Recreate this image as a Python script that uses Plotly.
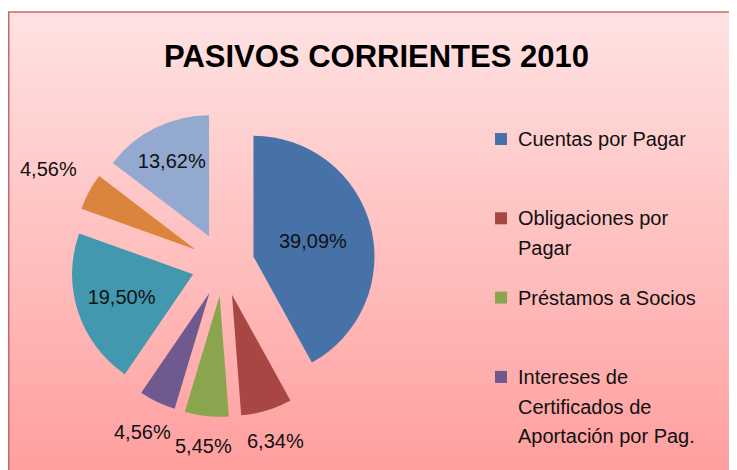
import math
import plotly.graph_objects as go

# ---- data ----
categories = [
    "Cuentas por Pagar",
    "Obligaciones por Pagar",
    "Préstamos a Socios",
    "Intereses de Certificados de Aportación por Pag.",
    "Obligaciones Financieras",
    "Provisiones",
    "Otros Pasivos Corrientes",
]
values = [39.09, 6.34, 5.45, 4.56, 19.50, 4.56, 13.62]
legend_lines = [
    ["Cuentas por Pagar"],
    ["Obligaciones por", "Pagar"],
    ["Préstamos a Socios"],
    ["Intereses de", "Certificados de", "Aportación por Pag."],
]
title_text = "PASIVOS CORRIENTES 2010"

# ---- style ----
colors = ["#4672A8", "#A84644", "#89A54E", "#6E5A8E", "#4198AF", "#DB843D", "#93A9D0"]
label_inside = [True, False, False, False, True, False, True]
FONT = "Liberation Sans"

W, H = 737, 470
OFF = 8  # page body margin


def fx(x):
    return (x - OFF) / W


def fy(y):
    return 1 - (y - OFF) / H


cx, cy = 223, 264.5       # pie centre (px)
PULL = 0.26
R = 121                   # slice radius (px)
half = R * (1 + PULL)

fig = go.Figure(
    go.Pie(
        labels=categories,
        values=values,
        sort=False,
        direction="clockwise",
        rotation=0,
        pull=PULL,
        marker=dict(colors=colors, line=dict(width=0)),
        texttemplate=["%{value:.2f}%" if ins else "" for ins in label_inside],
        textposition=["inside" if ins else "none" for ins in label_inside],
        insidetextorientation="horizontal",
        textfont=dict(family=FONT, size=20, color="#111111"),
        domain=dict(x=[fx(cx - half), fx(cx + half)], y=[fy(cy + half), fy(cy - half)]),
        showlegend=False,
        hoverinfo="label+percent",
    )
)

annotations = []
# outside data labels, placed along each slice's bisector
total = sum(values)
cum = 0.0
for v, ins in zip(values, label_inside):
    a = math.radians((cum + v / 2) / total * 360)
    cum += v
    if ins:
        continue
    r = 182 + 22 * math.sin(a) ** 2
    px_ = cx + r * math.sin(a)
    py_ = cy - r * math.cos(a)
    annotations.append(dict(text=("%.2f" % v).replace(".", ",") + "%", xref="paper", yref="paper",
                            x=fx(px_), y=fy(py_), xanchor="center", yanchor="middle", showarrow=False,
                            font=dict(family=FONT, size=20, color="#111111")))

shapes = []
# gradient background of chart area
top, bottom, left, right = 12, 470 + OFF, 8, 737 + OFF
N = 70
c0 = (255, 226, 226)
c1 = (255, 158, 158)
for i in range(N):
    t = i / (N - 1)
    col = tuple(round(c0[k] + (c1[k] - c0[k]) * t) for k in range(3))
    y0 = top + (bottom - top) * i / N
    y1 = min(top + (bottom - top) * (i + 1) / N + 0.5, bottom)
    shapes.append(dict(type="rect", xref="paper", yref="paper", layer="below",
                       x0=fx(left), x1=fx(right), y0=fy(y1), y1=fy(y0),
                       line=dict(width=0), fillcolor="rgb(%d,%d,%d)" % col))
# border (top and left edges visible)
shapes.append(dict(type="line", xref="paper", yref="paper", layer="below",
                   x0=fx(left), x1=fx(right), y0=fy(top), y1=fy(top),
                   line=dict(width=1.5, color="#CC6666")))
shapes.append(dict(type="line", xref="paper", yref="paper", layer="below",
                   x0=fx(left) + 0.001, x1=fx(left) + 0.001, y0=fy(bottom), y1=fy(top),
                   line=dict(width=1.5, color="#CC6666")))

# manual legend
first_y = 139
item_gap = 79.3
line_gap = 29.7
for i, lines in enumerate(legend_lines):
    y = first_y + i * item_gap
    shapes.append(dict(type="rect", xref="paper", yref="paper",
                       x0=fx(495), x1=fx(507), y0=fy(y + 6), y1=fy(y - 6),
                       line=dict(width=0), fillcolor=colors[i]))
    for j, ln in enumerate(lines):
        annotations.append(dict(text=ln, xref="paper", yref="paper", x=fx(516), y=fy(y + j * line_gap),
                                xanchor="left", yanchor="middle", showarrow=False,
                                font=dict(family=FONT, size=20, color="#111111")))

# title
annotations.append(dict(text="<b>%s</b>" % title_text, xref="paper", yref="paper",
                        x=fx(376), y=fy(57), xanchor="center", yanchor="middle", showarrow=False,
                        font=dict(family=FONT, size=31, color="#000000")))

fig.update_layout(
    width=W, height=H,
    autosize=False,
    margin=dict(l=0, r=0, t=0, b=0, pad=0, autoexpand=False),
    paper_bgcolor="white",
    plot_bgcolor="white",
    separators=",.",
    shapes=shapes,
    annotations=annotations,
)

fig.write_html("out.html")
